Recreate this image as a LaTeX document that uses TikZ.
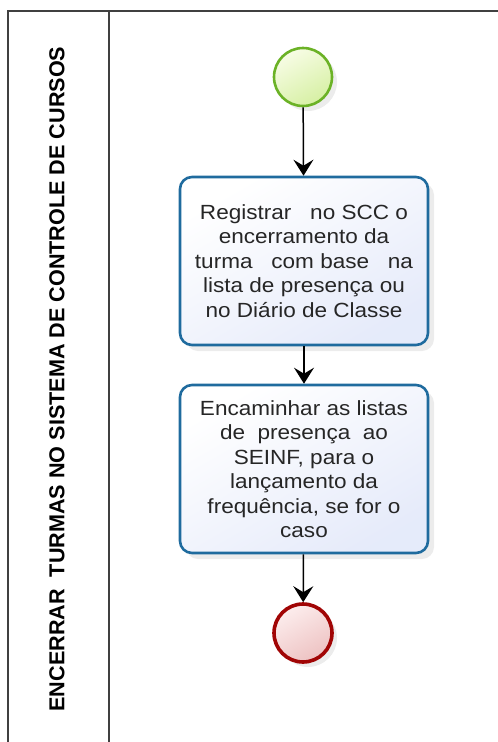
\documentclass[tikz,border=0pt]{standalone}
\usepackage{fontspec}
\setmainfont{Liberation Sans}
\usepackage{tikz}
\usetikzlibrary{arrows.meta}
\usetikzlibrary{shadows}
\tikzset{lane/.style = {draw = lanegray, line width = 2pt}}
\tikzset{tarefa/.style = {draw = tblue, line width = 2.6pt, rounded corners = 12pt,
    top color = white, bottom color = tfill, shading angle = 30,
    minimum width = 248pt, minimum height = 168pt, align = center,
    font = \addfontfeature{FakeStretch = 1.1}\fontsize{20.5}{24.5}\selectfont, text = black!85,
    drop shadow = {shadow xshift = 6pt, shadow yshift = -6pt, opacity = 0.15}}}
\tikzset{inicio/.style = {circle, draw = sgreen, line width = 2.6pt, minimum size = 58pt,
    top color = sfill1, bottom color = sfill2, shading angle = 30,
    drop shadow = {shadow xshift = 5pt, shadow yshift = -5pt, opacity = 0.15}}}
\tikzset{fim/.style = {circle, draw = ered, line width = 3.6pt, minimum size = 58pt,
    top color = efill1, bottom color = efill2, shading angle = 30,
    drop shadow = {shadow xshift = 5pt, shadow yshift = -5pt, opacity = 0.15}}}
\tikzset{fluxo/.style = {line width = 1.5pt, -{Stealth[length = 16pt, width = 20pt, inset = 6pt]}}}
\definecolor{lanegray}{rgb}{0.25, 0.25, 0.25}
\definecolor{tblue}{rgb}{0.12, 0.42, 0.62}
\definecolor{tfill}{rgb}{0.90, 0.92, 0.98}
\definecolor{sgreen}{rgb}{0.42, 0.70, 0.15}
\definecolor{sfill1}{rgb}{0.97, 0.99, 0.90}
\definecolor{sfill2}{rgb}{0.84, 0.94, 0.64}
\definecolor{ered}{rgb}{0.63, 0.02, 0.02}
\definecolor{efill1}{rgb}{0.99, 0.93, 0.93}
\definecolor{efill2}{rgb}{0.93, 0.76, 0.76}

\begin{document}
\begin{tikzpicture}[x = 1pt, y = -1pt]
      \useasboundingbox (0, 0) rectangle (498, 742);

      \draw [lane] (8, 750) -- (8, 11) -- (506, 11);
      \draw [lane] (109, 11) -- (109, 750);
      \node [rotate = 90, font = \fontsize{21.6}{25}\selectfont\bfseries] (titulo) at (57, 379)
        {ENCERRAR\ \ TURMAS NO SISTEMA DE CONTROLE DE CURSOS};

      \node [inicio] (inicio) at (303, 77) {};

      \node [tarefa] (registrar) at (304, 261)
        {Registrar\ \ \ no SCC o\\ encerramento da\\ turma\ \ \ com base\ \ \ na\\
         lista de presen\c{c}a ou\\ no Di\'ario de Classe};

      \node [tarefa] (encaminhar) at (304, 469)
        {Encaminhar as listas\\ de\ \ presen\c{c}a\ \ ao\\ SEINF, para o\\
         lan\c{c}amento da\\ frequ\^encia, se for o\\ caso};

      \node [fim] (fim) at (303, 633) {};

      \draw [fluxo] (inicio) -- (registrar);
      \draw [fluxo] (registrar) -- (encaminhar);
      \draw [fluxo] (encaminhar) -- (fim);
    \end{tikzpicture}
\end{document}
